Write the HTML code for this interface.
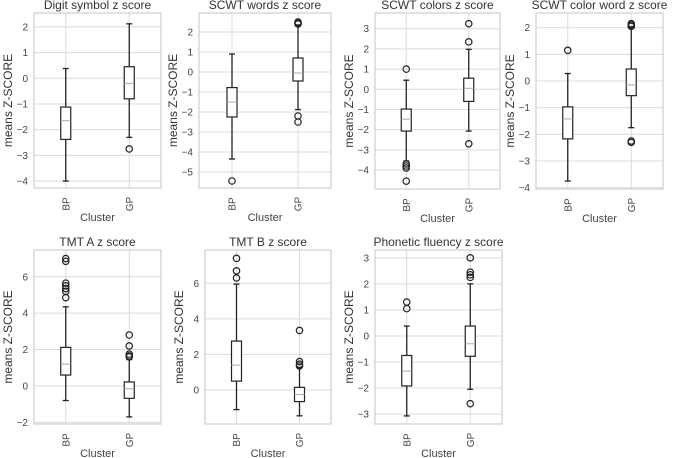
<!DOCTYPE html>
<html><head><meta charset="utf-8"><style>
body{margin:0;background:#fff;}
svg{display:block;font-family:"Liberation Sans",sans-serif;}
</style></head><body>
<svg id="fig" width="676" height="458" viewBox="0 0 676 458" xmlns="http://www.w3.org/2000/svg"></svg>
<script>
// data arrays
const titles = ["Digit symbol z score","SCWT words z score","SCWT colors z score","SCWT color word z score","TMT A z score","TMT B z score","Phonetic fluency z score"];
const categories = ["BP","GP"];
const yTicks = [[-4,-3,-2,-1,0,1,2],[-5,-4,-3,-2,-1,0,1,2],[-4,-3,-2,-1,0,1,2,3],[-4,-3,-2,-1,0,1,2],[-2,0,2,4,6],[0,2,4,6],[-3,-2,-1,0,1,2,3]];
const yDomains = [[-4.27,2.54],[-5.8,2.95],[-4.94,3.78],[-4.05,2.55],[-2.09,7.47],[-1.91,7.87],[-3.38,3.3]];
// [whiskerLow, q1, median, q3, whiskerHigh] per category
const bpStats = [[-4,-2.38,-1.65,-1.12,0.38],[-4.35,-2.25,-1.5,-0.78,0.9],[-3.55,-2.07,-1.48,-0.98,0.45],[-3.75,-2.17,-1.42,-0.97,0.28],[-0.8,0.6,1.2,2.12,4.35],[-1.1,0.5,1.4,2.75,5.95],[-3.07,-1.92,-1.35,-0.75,0.38]];
const gpStats = [[-2.3,-0.8,-0.2,0.45,2.12],[-1.88,-0.45,-0.05,0.7,2.35],[-2.07,-0.6,0.05,0.55,1.98],[-1.75,-0.55,-0.15,0.45,2.0],[-1.7,-0.68,-0.15,0.22,1.45],[-1.45,-0.65,-0.25,0.15,1.25],[-2.05,-0.78,-0.3,0.38,2.0]];
const bpOutliers = [[],[-5.45],[1.0,-3.7,-3.8,-3.9,-4.55],[1.15],[4.85,5.2,5.35,5.5,5.65,6.85,7.0],[6.3,6.7,7.4],[1.05,1.3]];
const gpOutliers = [[-2.75],[2.5,2.45,2.4,-2.2,-2.5],[3.25,2.35,-2.7],[2.15,2.1,2.05,-2.25,-2.3],[1.6,1.65,1.75,2.2,2.8],[1.35,1.45,1.6,3.35],[2.25,2.35,2.45,3.0,-2.6]];

const layout=[[34,161,13,188],[199,331,13,188],[375,500,13,189],[536,663,13,189],[34,161,250,424],[205,331,250,424],[375,502,250,424]];
const NS="http://www.w3.org/2000/svg";
const fig=document.getElementById('fig');
function mk(tag,attrs,parent,text){const e=document.createElementNS(NS,tag);for(const k in attrs)e.setAttribute(k,attrs[k]);if(text!==undefined)e.textContent=text;parent.appendChild(e);return e;}
titles.forEach((t,i)=>{
  const [x0,x1,y0,y1]=layout[i];const [d0,d1]=yDomains[i];
  const y=v=>y1-(v-d0)/(d1-d0)*(y1-y0);
  const xs=[x0+(x1-x0)*0.25,x0+(x1-x0)*0.75];
  const g=mk('g',{},fig);
  
  
  mk('rect',{x:x0,y:y0,width:x1-x0,height:y1-y0,fill:'#fff'},g);
  yTicks[i].forEach(v=>{
    const l=mk('line',{x1:x0,x2:x1,y1:y(v),y2:y(v),stroke:'#dcdcdc','stroke-width':1},g);
    
    
    const tx=mk('text',{x:x0-6,y:y(v)+3.5,'text-anchor':'end','font-size':10,fill:'#444'},g,v<0?'\u2212'+Math.abs(v):String(v));
    
    
  });
  xs.forEach(x=>mk('line',{x1:x,x2:x,y1:y0,y2:y1,stroke:'#dcdcdc','stroke-width':1},g));
  const fr=mk('rect',{x:x0,y:y0,width:x1-x0,height:y1-y0,fill:'none',stroke:'#cfcfcf','stroke-width':1.2},g);
  
  
  const tt=mk('text',{x:(x0+x1)/2,y:y0-4,'text-anchor':'middle','font-size':12,fill:'#333'},g,t);
  
  
  const yl=mk('text',{transform:`translate(${x0-22},${(y0+y1)/2}) rotate(-90)`,'text-anchor':'middle','font-size':12,fill:'#333'},g,'means Z-SCORE');
  
  
  const xl=mk('text',{x:(x0+x1)/2,y:y1+33,'text-anchor':'middle','font-size':11,fill:'#444'},g,'Cluster');
  
  
  [bpStats[i],gpStats[i]].forEach((s,c)=>{
    const x=xs[c];
    const cl=mk('text',{transform:`translate(${x+3.5},${y1+16}) rotate(-90)`,'text-anchor':'middle','font-size':10,fill:'#444'},g,categories[c]);
    
    
    const b=mk('g',{},g);
    
    
    mk('line',{x1:x,x2:x,y1:y(s[0]),y2:y(s[1]),stroke:'#222','stroke-width':1.3},b);
    mk('line',{x1:x,x2:x,y1:y(s[3]),y2:y(s[4]),stroke:'#222','stroke-width':1.3},b);
    mk('line',{x1:x-3,x2:x+3,y1:y(s[0]),y2:y(s[0]),stroke:'#222','stroke-width':1.3},b);
    mk('line',{x1:x-3,x2:x+3,y1:y(s[4]),y2:y(s[4]),stroke:'#222','stroke-width':1.3},b);
    mk('rect',{x:x-5,y:y(s[3]),width:10,height:y(s[1])-y(s[3]),fill:'#fff',stroke:'#222','stroke-width':1.2},b);
    mk('line',{x1:x-5,x2:x+5,y1:y(s[2]),y2:y(s[2]),stroke:'#aaa','stroke-width':1},b);
    (c?gpOutliers[i]:bpOutliers[i]).forEach(o=>{
      const p=mk('circle',{cx:x,cy:y(o),r:3.2,fill:'none',stroke:'#222','stroke-width':1.2},b);
      
      
    });
  });
});
</script>
</body></html>
